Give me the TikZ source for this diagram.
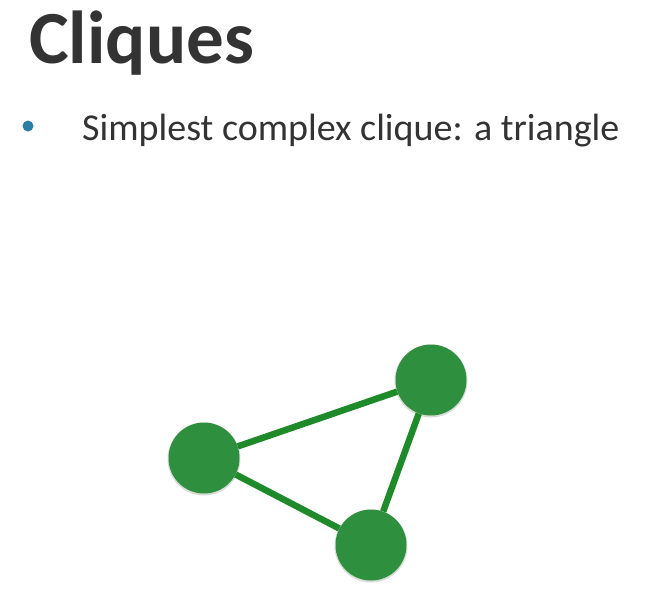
\documentclass[tikz,border=0pt]{standalone}
\usepackage{fontspec}
\setmainfont{Carlito}
\definecolor{titlegray}{HTML}{333333}
\definecolor{bulletblue}{HTML}{2C7FA3}
\definecolor{nodegreen}{HTML}{2E8F3E}
\definecolor{edgegreen}{HTML}{1E8A2A}
\definecolor{halo}{HTML}{D8DCD8}
\tikzset{
  vertex/.style={circle, fill=nodegreen, minimum size=71pt, inner sep=0pt},
  edge/.style={draw=edgegreen, line width=6.5pt},
  title/.style={anchor=base west, inner sep=0pt, text=titlegray, font=\bfseries\fontsize{75}{77}\selectfont},
  bullettext/.style={anchor=base west, inner sep=0pt, text=titlegray, font=\fontsize{38}{42}\selectfont}
}
\begin{document}
\begin{tikzpicture}[x=1pt, y=-1pt]
\useasboundingbox[fill=white] (0,0) rectangle (647,589);
\node[title] (t) at (29,63) {Cliques};
\fill[bulletblue] (28,126) circle (5.5pt);
\node[bullettext] (b) at (82,140) {Simplest complex clique: a triangle};
\fill[halo] (204,459) circle (36.5pt);
\fill[halo] (431,381) circle (36.5pt);
\fill[halo] (371,546) circle (36.5pt);
\node[vertex] (a) at (204,458) {};
\node[vertex] (c) at (431,380) {};
\node[vertex] (d) at (371,545) {};
\draw[edge] (a) -- (c);
\draw[edge] (c) -- (d);
\draw[edge] (d) -- (a);
\end{tikzpicture}
\end{document}
